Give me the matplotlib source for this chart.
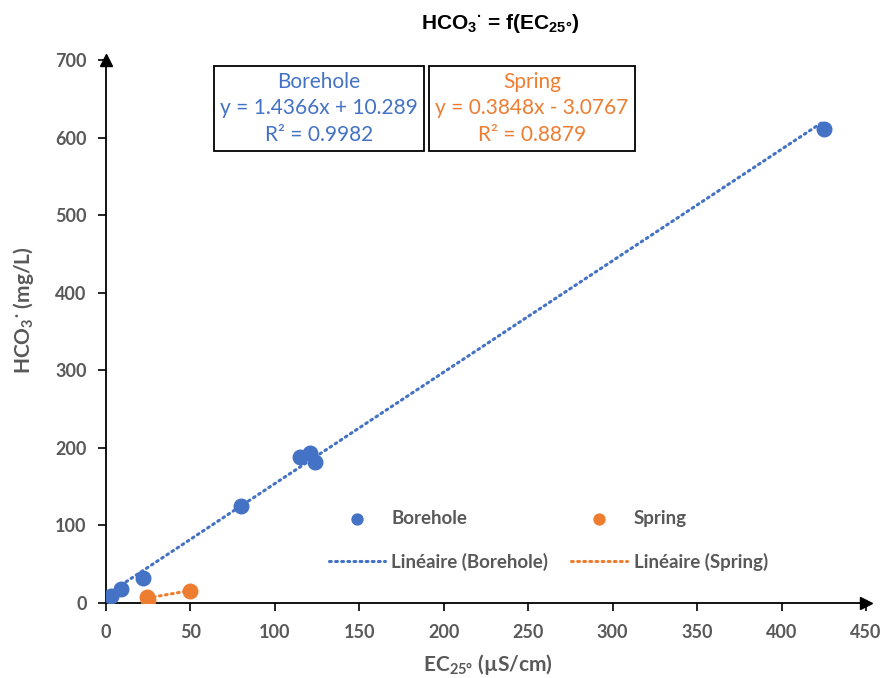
import numpy as np
import matplotlib
matplotlib.use("Agg")
import matplotlib.pyplot as plt

# data
borehole_ec = [2.8, 8.7, 22.0, 80.0, 115.0, 120.5, 123.5, 425.0]
borehole_hco3 = [9, 18, 32, 125, 188, 193, 182, 611]
spring_ec = [24.5, 25.0, 50.0]
spring_hco3 = [7.5, 4.0, 15.5]

# trendline coefficients as printed on the chart
borehole_fit = (1.4366, 10.289)
spring_fit = (0.3848, -3.0767)
borehole_eq = ["Borehole", "y = 1.4366x + 10.289", "R² = 0.9982"]
spring_eq = ["Spring", "y = 0.3848x - 3.0767", "R² = 0.8879"]

x_ticks = list(range(0, 451, 50))
y_ticks = list(range(0, 701, 100))

blue = "#4472C4"
orange = "#ED7D31"
gray = "#595959"

plt.rcParams["font.family"] = ["Lato", "DejaVu Sans"]
plt.rcParams["mathtext.default"] = "regular"

fig = plt.figure(figsize=(8.89, 6.78), dpi=100)
ax = fig.add_axes([0.1192, 0.1106, 0.855, 0.801])

ax.scatter(borehole_ec, borehole_hco3, s=110, color=blue, zorder=3, label="Borehole")
ax.scatter(spring_ec, spring_hco3, s=110, color=orange, zorder=3, label="Spring")

# trendlines over the range of each series
xb = np.array([min(borehole_ec), max(borehole_ec)])
ax.plot(xb, borehole_fit[0] * xb + borehole_fit[1], color=blue, lw=2.2,
        linestyle=(0, (0.6, 1.4)), dash_capstyle="round", zorder=2,
        label="Linéaire (Borehole)")
xs = np.array([min(spring_ec), max(spring_ec)])
ax.plot(xs, spring_fit[0] * xs + spring_fit[1], color=orange, lw=2.2,
        linestyle=(0, (0.6, 1.4)), dash_capstyle="round", zorder=2,
        label="Linéaire (Spring)")

ax.set_xlim(0, 450)
ax.set_ylim(0, 700)
ax.set_xticks(x_ticks)
ax.set_yticks(y_ticks)
ax.tick_params(direction="out", length=6, width=1.2, colors="black",
               labelcolor=gray, labelsize=13)
ax.tick_params(axis="x", pad=9)
ax.tick_params(axis="y", pad=8)
for lab in ax.get_xticklabels() + ax.get_yticklabels():
    lab.set_fontweight("bold")

for side in ["top", "right"]:
    ax.spines[side].set_visible(False)
for side in ["left", "bottom"]:
    ax.spines[side].set_linewidth(1.3)
    ax.spines[side].set_color("black")

# arrow heads on the axes
ax.plot(1.0, 0, ">k", markersize=9, transform=ax.transAxes, clip_on=False)
ax.plot(0, 1.0, "^k", markersize=9, transform=ax.transAxes, clip_on=False)

ax.set_xlabel(r"EC$_{25°}$ (µS/cm)", fontsize=15, fontweight="bold", color=gray)
ax.xaxis.set_label_coords(0.503, -0.09)
ax.set_ylabel(r"HCO$_3$$^{·}$ (mg/L)", fontsize=15, fontweight="bold", color=gray)
ax.yaxis.set_label_coords(-0.092, 0.54)

fig.text(0.563, 0.965, r"HCO$_3$$^{·}$ = f(EC$_{25°}$)", ha="center", va="center",
         fontsize=15, fontweight="bold", family=["Liberation Sans", "DejaVu Sans"])

# equation boxes
box = dict(boxstyle="square,pad=0.3", facecolor="white", edgecolor="black", linewidth=1.3)
fig.text(0.359, 0.840, "\n".join(borehole_eq), ha="center", va="center", color=blue,
         fontsize=15, linespacing=1.4, bbox=box)
fig.text(0.5985, 0.840, "\n".join(spring_eq), ha="center", va="center", color=orange,
         fontsize=15, linespacing=1.4, bbox=box)

handles, labels = ax.get_legend_handles_labels()
order = [0, 2, 1, 3]
leg = ax.legend([handles[i] for i in order], [labels[i] for i in order], ncol=2,
                loc="center", bbox_to_anchor=(0.582, 0.115), frameon=False,
                columnspacing=1.2, handlelength=3.0, handletextpad=0.35,
                labelspacing=1.35, fontsize=13.5, markerscale=0.75)
for t in leg.get_texts():
    t.set_color(gray)
    t.set_fontweight("bold")

fig.savefig("out.png", dpi=100)
